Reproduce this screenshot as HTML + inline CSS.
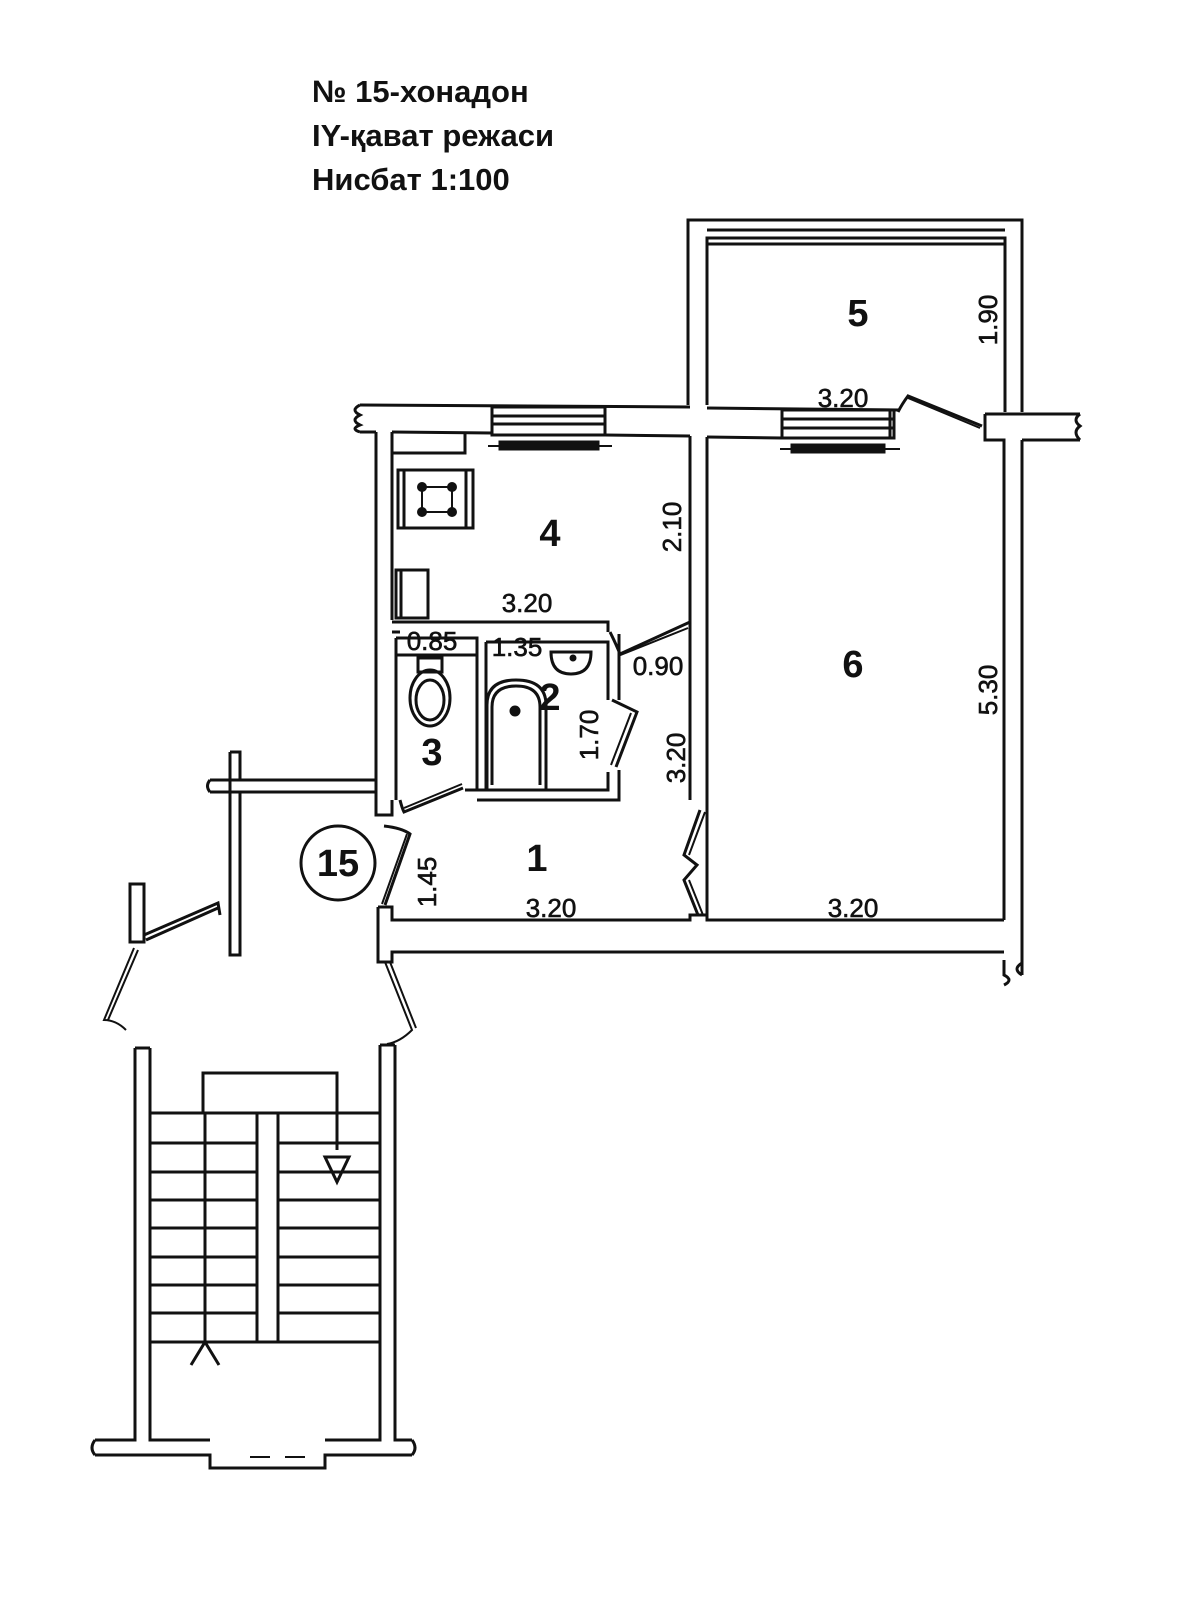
<!DOCTYPE html>
<html><head><meta charset="utf-8"><style>
html,body{margin:0;padding:0;background:#fff;overflow:hidden;width:1200px;height:1597px;}
svg{display:block}
text{font-family:"Liberation Sans",Arial,sans-serif;fill:#111}
</style></head><body>
<svg width="1200" height="1597" viewBox="0 0 1200 1597" xmlns="http://www.w3.org/2000/svg">
<rect width="1200" height="1597" fill="#fff"/>
<g font-weight="bold" font-size="31">
<text x="312" y="102">№ 15-хонадон</text>
<text x="312" y="146">IY-қават режаси</text>
<text x="312" y="190">Нисбат 1:100</text>
</g>
<g fill="none" stroke="#111" stroke-width="3">
<path d="M688 405 V220 H1022 V412"/>
<path d="M707 405 V238 H1005 V412"/>
<path d="M707 230 H1005 M707 244 H1005"/>
<path d="M360 405 L690 407 M707 408 L900 410"/>
<path d="M360 432 H376 M392 432 L492 433 M605 435 L690 436 M707 437 L782 438"/>
<path d="M360 405 q-10 5 0 10 q-10 5 0 10 q-10 4 0 7"/>
<rect x="492" y="407" width="113" height="28"/>
<path d="M492 416 H605 M492 424 H605"/>
<path d="M488 446 H612" stroke-width="2"/>
<rect x="500" y="442" width="98" height="7" fill="#111"/>
<rect x="782" y="410" width="112" height="28"/>
<path d="M782 419 H894 M782 428 H894 M890 410 V438"/>
<path d="M780 449 H900" stroke-width="2"/>
<rect x="792" y="445" width="92" height="7" fill="#111"/>
<path d="M898 412 q4 -8 10 -16 L982 426"/>
<path d="M908 398 L980 428" stroke-width="2"/>
<path d="M985 414 H1080 M985 414 V440 H1004 V920 M1022 440 H1080 M1022 440 V975"/>
<path d="M1080 414 q-8 6 0 12 q-8 6 0 14"/>
<path d="M1022 975 q-10 -6 0 -12 M1004 960 V975 q10 5 0 10"/>
<path d="M376 432 V790 M392 432 V620"/>
<path d="M392 453 H465 V432"/>
<path d="M392 622 H608 V632 M392 632 H400"/>
<path d="M690 436 V800 M707 437 V920"/>
<rect x="398" y="470" width="68" height="58"/>
<path d="M404 470 V528 M466 470 h7 V528 h-7"/>
<g fill="#111" stroke="none"><circle cx="422" cy="487" r="5"/><circle cx="452" cy="487" r="5"/><circle cx="422" cy="512" r="5"/><circle cx="452" cy="512" r="5"/></g>
<path d="M422 487 H452 V512 H422 Z" stroke-width="2"/>
<rect x="396" y="570" width="32" height="48"/>
<path d="M401 570 V618"/>
<path d="M610 632 q6 12 10 22 L690 622"/>
<path d="M618 656 L688 628" stroke-width="2"/>
<path d="M396 638 V800 M396 638 H477 V790 M396 655 H477"/>
<path d="M465 790 H608 V772 M477 800 H619 V770"/>
<ellipse cx="430" cy="698" rx="20" ry="28"/>
<ellipse cx="430" cy="700" rx="14" ry="20"/>
<rect x="418" y="658" width="24" height="14"/>
<path d="M486 642 H608 V700 M486 642 V790 M619 634 V700"/>
<path d="M487 790 V705 Q487 680 516 680 Q546 680 546 705 V790"/>
<path d="M492 785 V707 Q492 686 516 686 Q540 686 540 707 V785"/>
<circle cx="515" cy="711" r="4" fill="#111"/>
<path d="M551 652 q0 22 20 22 q20 0 20 -22 Z"/>
<circle cx="573" cy="658" r="2" fill="#111"/>
<path d="M612 700 L637 712 L616 767"/>
<path d="M631 713 L611 765" stroke-width="2"/>
<path d="M400 800 q2 8 4 12 L463 788"/>
<path d="M404 808 L462 784" stroke-width="2"/>
<path d="M210 780 H376 M210 792 H376 M376 790 V815 H392 V800"/>
<path d="M230 752 V955 H240 V792 M240 780 V752 H230 M210 780 q-5 6 0 12"/>
<path d="M384 826 q18 2 26 8 L385 905"/>
<path d="M407 834 L382 904" stroke-width="2"/>
<path d="M378 907 H392 V920 H690 V915 H707 V920 H1004"/>
<path d="M378 907 V962 H392 V952 H1004 M1022 952 V960"/>
<path d="M700 810 L684 855 L697 865 L684 880 L698 915"/>
<path d="M705 812 L689 855 M689 880 L703 915" stroke-width="2"/>
<rect x="130" y="884" width="14" height="58"/>
<path d="M144 935 L218 903 L220 915 M146 940 L218 908" />
<path d="M134 948 L104 1020 q12 0 22 10 M138 950 L108 1020" stroke-width="2"/>
<path d="M385 962 L412 1030 q-12 12 -25 14 M390 962 L416 1028" stroke-width="2"/>
<path d="M135 1048 V1440 H95 M150 1048 V1440 H210 M135 1048 H150"/>
<path d="M380 1045 V1440 H325 M395 1045 V1440 H412 M380 1045 H395"/>
<path d="M95 1455 H210 V1468 H325 V1455 H412"/>
<path d="M95 1440 q-6 8 0 15 M412 1440 q6 8 0 15"/>
<path d="M250 1457 h20 M285 1457 h20" stroke-width="2"/>
<path d="M203 1113 V1073 H337 V1150"/>
<path d="M151 1113 H380 M151 1143 H257 M278 1143 H380 M151 1172 H257 M278 1172 H380 M151 1200 H257 M278 1200 H380 M151 1228 H257 M278 1228 H380 M151 1257 H257 M278 1257 H380 M151 1285 H257 M278 1285 H380 M151 1313 H257 M278 1313 H380 M151 1342 H380"/>
<path d="M257 1113 V1342 M278 1113 V1342"/>
<path d="M205 1113 V1342 M191 1365 L205 1342 L219 1365"/>
<path d="M325 1157 H349 L337 1182 Z"/>
<circle cx="338" cy="863" r="37"/>
</g>
<g font-size="38" font-weight="bold" text-anchor="middle">
<text x="858" y="326">5</text>
<text x="550" y="546">4</text>
<text x="853" y="677">6</text>
<text x="550" y="710">2</text>
<text x="432" y="765">3</text>
<text x="537" y="871">1</text>
<text x="338" y="876">15</text>
</g>
<g font-size="26" text-anchor="middle" stroke="#111" stroke-width="0.6">
<text x="843" y="407">3.20</text>
<text x="527" y="612">3.20</text>
<text x="432" y="650">0.85</text>
<text x="517" y="656">1.35</text>
<text x="658" y="675">0.90</text>
<text x="551" y="917">3.20</text>
<text x="853" y="917">3.20</text>
<text transform="translate(997 320) rotate(-90)">1.90</text>
<text transform="translate(681 527) rotate(-90)">2.10</text>
<text transform="translate(997 690) rotate(-90)">5.30</text>
<text transform="translate(598 735) rotate(-90)">1.70</text>
<text transform="translate(685 758) rotate(-90)">3.20</text>
<text transform="translate(436 882) rotate(-90)">1.45</text>
</g>
</svg>
</body></html>
